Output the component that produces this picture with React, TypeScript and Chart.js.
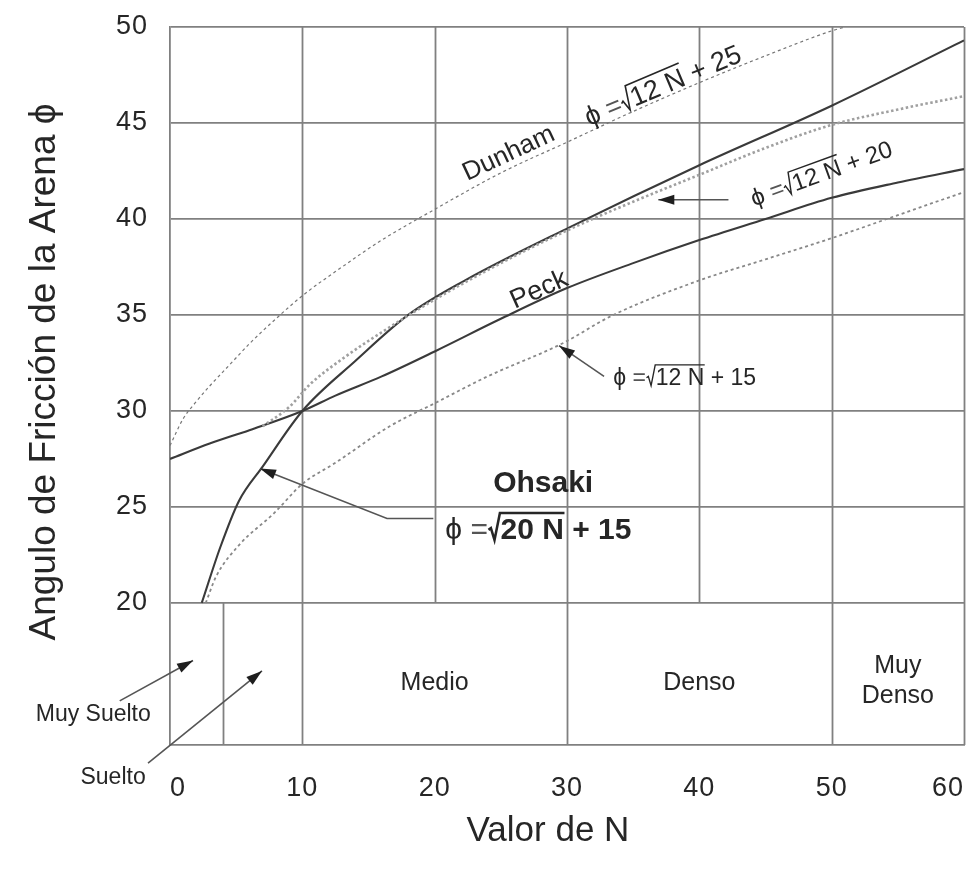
import React, { useEffect, useRef } from "react";
import { Chart, registerables } from "chart.js";

Chart.register(...registerables);

// Axes: SPT blow count N and friction angle φ
const nTicks = [0, 10, 20, 30, 40, 50, 60];
const phiTicks = [20, 25, 30, 35, 40, 45, 50];
const phiMin = 12.6;
const upperGridN = [10, 20, 30, 40, 50];

// Relative density bands shown under the curves
const densityEdges = [0, 4, 10, 30, 50, 60];
const densityNames = ["Muy Suelto", "Suelto", "Medio", "Denso", "Muy Denso"];

// Ohsaki: φ = √(20N) + 15
const ohsakiN = [2.4, 3.8, 5.2, 7, 10, 14, 18, 22.3, 30.3, 40, 50, 60];
const ohsakiPhi = [20, 22.9, 25.3, 27.1, 30, 32.6, 35, 36.8, 39.6, 42.8, 45.9, 49.3];

// Peck
const peckN = [0, 3, 6, 10, 12.5, 16, 20, 25, 30, 35, 40, 45, 50, 55, 60];
const peckPhi = [27.5, 28.3, 29.0, 30.0, 30.8, 31.8, 33.1, 34.8, 36.4, 37.7, 38.9, 40.0, 41.1, 41.9, 42.6];

// Dunham: φ = √(12N) + 25
const dunhamN = [0, 1, 2, 3, 4.5, 6, 8, 10, 13, 16, 20, 25, 30, 35, 40, 45, 50, 51];
const dunhamPhi = [28.2, 29.6, 30.5, 31.3, 32.4, 33.5, 34.8, 36.0, 37.5, 38.9, 40.5, 42.4, 44.0, 45.6, 47.1, 48.5, 49.8, 50];

// φ = √(12N) + 20
const mid20N = [7, 9, 10.6, 13.2, 16, 20, 25, 30, 35, 40, 45, 50, 55, 60];
const mid20Phi = [29.2, 30.2, 31.4, 32.8, 34.1, 35.8, 37.7, 39.4, 40.9, 42.3, 43.7, 44.9, 45.7, 46.4];

// φ = √(12N) + 15
const low15N = [2.7, 3.5, 5.2, 7.9, 10, 12.5, 16.6, 20, 24, 29.6, 33.5, 40, 45, 50, 55, 60];
const low15Phi = [20.0, 21.4, 23.0, 24.7, 26.2, 27.3, 29.2, 30.4, 31.8, 33.5, 35.0, 36.8, 37.9, 39.0, 40.2, 41.4];

const FONT = '"Liberation Sans", Arial, Helvetica, "DejaVu Sans", sans-serif';
const PHI = "\u03D5";
const TEXT = "#262626";
const GRID = "#808080";
const CURVE = "#3a3a3a";

const pts = (xs: number[], ys: number[]) => xs.map((x, i) => ({ x, y: ys[i] }));

type Ctx = CanvasRenderingContext2D;

function drawText(ctx: Ctx, text: string, x: number, y: number, angle: number, font: string, align: CanvasTextAlign = "center") {
  ctx.save();
  ctx.translate(x, y);
  ctx.rotate((angle * Math.PI) / 180);
  ctx.font = font;
  ctx.fillStyle = TEXT;
  ctx.textAlign = align;
  ctx.textBaseline = "middle";
  ctx.fillText(text, 0, 0);
  ctx.restore();
}

// ϕ = √(radicand) + tail, with a drawn radical sign and overbar
function drawFormula(ctx: Ctx, x: number, y: number, angle: number, size: number, bold: boolean, radicand: string, tail: string, anchor: "center" | "left") {
  const reg = `${size}px ${FONT}`;
  const strong = `${bold ? "bold " : ""}${size}px ${FONT}`;
  ctx.save();
  ctx.translate(x, y);
  ctx.rotate((angle * Math.PI) / 180);
  ctx.textAlign = "left";
  ctx.textBaseline = "alphabetic";
  ctx.fillStyle = TEXT;
  ctx.strokeStyle = TEXT;
  ctx.font = reg;
  const wPhi = ctx.measureText(PHI).width;
  const wEq = ctx.measureText(" =").width;
  const radW = size * 0.42;
  ctx.font = strong;
  const wRad = ctx.measureText(radicand).width;
  const wTail = ctx.measureText(tail).width;
  const total = wPhi + wEq + radW + wRad + wTail;
  let cx = anchor === "center" ? -total / 2 : 0;
  const base = size * 0.36;
  ctx.font = reg;
  ctx.fillText(PHI, cx, base);
  cx += wPhi;
  ctx.fillStyle = "#555";
  ctx.fillText(" =", cx, base);
  ctx.fillStyle = TEXT;
  cx += wEq;
  const x0 = cx + size * 0.02;
  ctx.lineWidth = size * (bold ? 0.085 : 0.06);
  ctx.lineJoin = "miter";
  ctx.beginPath();
  ctx.moveTo(x0, base - size * 0.3);
  ctx.lineTo(x0 + size * 0.08, base - size * 0.36);
  ctx.lineTo(x0 + size * 0.2, base + size * 0.04);
  ctx.lineTo(x0 + size * 0.38, base - size * 0.86);
  ctx.lineTo(cx + radW + wRad + size * 0.02, base - size * 0.86);
  ctx.stroke();
  cx += radW;
  ctx.font = strong;
  ctx.fillText(radicand, cx, base);
  cx += wRad;
  ctx.fillText(tail, cx, base);
  ctx.restore();
}

function drawArrow(ctx: Ctx, path: [number, number][], color = "#555") {
  ctx.save();
  ctx.strokeStyle = color;
  ctx.lineWidth = 1.6;
  ctx.beginPath();
  path.forEach(([px, py], i) => (i === 0 ? ctx.moveTo(px, py) : ctx.lineTo(px, py)));
  ctx.stroke();
  const [x1, y1] = path[path.length - 1];
  const [x0, y0] = path[path.length - 2];
  const a = Math.atan2(y1 - y0, x1 - x0);
  const len = 16;
  const half = 5;
  ctx.fillStyle = "#1e1e1e";
  ctx.beginPath();
  ctx.moveTo(x1, y1);
  ctx.lineTo(x1 - len * Math.cos(a) + half * Math.sin(a), y1 - len * Math.sin(a) - half * Math.cos(a));
  ctx.lineTo(x1 - len * Math.cos(a) - half * Math.sin(a), y1 - len * Math.sin(a) + half * Math.cos(a));
  ctx.closePath();
  ctx.fill();
  ctx.restore();
}

const overlay = {
  id: "overlay",
  beforeDraw(chart: any) {
    // slightly spaced digits on the axis ticks
    chart.ctx.letterSpacing = "1px";
  },
  beforeDatasetsDraw(chart: any) {
    const { ctx, chartArea: a, scales } = chart;
    ctx.letterSpacing = "0px";
    const x = scales.x;
    const y = scales.y;
    ctx.save();
    ctx.strokeStyle = GRID;
    ctx.lineWidth = 1.8;
    const v = (n: number, from: number, to: number) => {
      const px = Math.round(x.getPixelForValue(n)) + 0.5;
      ctx.beginPath();
      ctx.moveTo(px, from);
      ctx.lineTo(px, to);
      ctx.stroke();
    };
    upperGridN.forEach((n) => v(n, y.getPixelForValue(50), y.getPixelForValue(20)));
    densityEdges.slice(1, -1).forEach((n) => v(n, y.getPixelForValue(20), a.bottom));
    v(60, a.top, a.bottom);
    ctx.restore();
  },
  afterDraw(chart: any) {
    const { ctx, scales } = chart;
    ctx.letterSpacing = "0px";
    const X = (n: number) => scales.x.getPixelForValue(n);
    const Y = (p: number) => scales.y.getPixelForValue(p);

    // curve labels
    drawText(ctx, "Dunham", X(25.6), Y(43.4), -25, `26px ${FONT}`);
    drawFormula(ctx, X(37.2), Y(47.0), -23, 27, false, "12 N", " + 25", "center");
    drawFormula(ctx, X(49.2), Y(42.4), -20, 24, false, "12 N", " + 20", "center");
    drawArrow(ctx, [[X(42.2), Y(41.0)], [X(36.9), Y(41.0)]]);
    drawText(ctx, "Peck", X(27.9), Y(36.3), -24, `27px ${FONT}`);
    drawFormula(ctx, X(33.5), Y(31.8), 0, 23, false, "12 N", " + 15", "left");
    drawArrow(ctx, [[X(32.8), Y(31.8)], [X(29.4), Y(33.4)]]);
    drawText(ctx, "Ohsaki", X(28.2), Y(26.2), 0, `bold 30px ${FONT}`);
    drawFormula(ctx, X(20.8), Y(23.9), 0, 30, true, "20 N", " + 15", "left");
    drawArrow(ctx, [[X(19.9), Y(24.4)], [X(16.4), Y(24.4)], [X(6.8), Y(27.0)]]);

    // density bands
    for (let i = 2; i < densityNames.length; i++) {
      const cx = X((densityEdges[i] + densityEdges[i + 1]) / 2);
      const words = densityNames[i].split(" ");
      if (words.length === 1) {
        drawText(ctx, words[0], cx, Y(15.8), 0, `25px ${FONT}`);
      } else {
        drawText(ctx, words[0], cx, Y(16.7), 0, `25px ${FONT}`);
        drawText(ctx, words[1], cx, Y(15.15), 0, `25px ${FONT}`);
      }
    }
    drawText(ctx, densityNames[0], X(-5.8), Y(14.2), 0, `23px ${FONT}`);
    drawArrow(ctx, [[X(-3.8), Y(14.9)], [X(1.74), Y(17.0)]]);
    drawText(ctx, densityNames[1], X(-4.3), Y(10.9), 0, `23px ${FONT}`);
    drawArrow(ctx, [[X(-1.66), Y(11.66)], [X(6.95), Y(16.46)]]);

    // axis titles
    drawText(ctx, "Angulo de Fricción de la Arena " + PHI, 45, 372, -90, `37px ${FONT}`);
    drawText(ctx, "Valor de N", 548, 831, 0, `35px ${FONT}`);
  },
};

export default function App() {
  const ref = useRef<HTMLCanvasElement | null>(null);

  useEffect(() => {
    document.body.style.margin = "0";
    const canvas = ref.current;
    if (!canvas) return;
    const line = (data: any, color: string, width: number, dash: number[]) => ({
      data,
      borderColor: color,
      borderWidth: width,
      borderDash: dash,
      pointRadius: 0,
      fill: false,
      cubicInterpolationMode: "monotone",
    });
    const chart = new Chart(canvas, {
      type: "line",
      data: {
        datasets: [
          line(pts(dunhamN, dunhamPhi), "#777", 1.2, [3, 3]),
          line(pts(mid20N, mid20Phi), "#a0a0a0", 2.6, [2.5, 2.5]),
          line(pts(low15N, low15Phi), "#888", 1.8, [3, 3]),
          line(pts(peckN, peckPhi), CURVE, 2.1, []),
          line(pts(ohsakiN, ohsakiPhi), CURVE, 2.1, []),
        ] as any,
      },
      options: {
        animation: false,
        responsive: false,
        maintainAspectRatio: false,
        layout: { padding: { top: 27, right: 12, left: 0, bottom: 0 } },
        plugins: { legend: { display: false }, tooltip: { enabled: false } },
        scales: {
          x: {
            type: "linear",
            min: 0,
            max: 60,
            afterBuildTicks: (s: any) => {
              s.ticks = nTicks.map((value) => ({ value }));
            },
            afterFit: (s: any) => {
              s.height = 132;
              s.paddingLeft = 0;
              s.paddingRight = 0;
            },
            grid: { display: false, drawTicks: false },
            border: { display: true, color: GRID, width: 1.8 },
            ticks: {
              font: { family: FONT, size: 27 },
              color: TEXT,
              padding: 27,
              align: "inner",
              maxRotation: 0,
              autoSkip: false,
            },
          },
          y: {
            type: "linear",
            min: phiMin,
            max: 50,
            afterBuildTicks: (s: any) => {
              s.ticks = phiTicks.map((value) => ({ value }));
            },
            afterFit: (s: any) => {
              s.width = 170;
              s.paddingTop = 0;
              s.paddingBottom = 0;
            },
            grid: { color: GRID, lineWidth: 1.8, drawTicks: false },
            border: { display: true, color: GRID, width: 1.8 },
            ticks: {
              font: { family: FONT, size: 27 },
              color: TEXT,
              padding: 22,
              autoSkip: false,
            },
          },
        },
      } as any,
      plugins: [overlay],
    });
    return () => chart.destroy();
  }, []);

  return (
    <div style={{ width: 976, height: 877, background: "#fff" }}>
      <canvas ref={ref} width={976} height={877} style={{ display: "block" }} />
    </div>
  );
}
